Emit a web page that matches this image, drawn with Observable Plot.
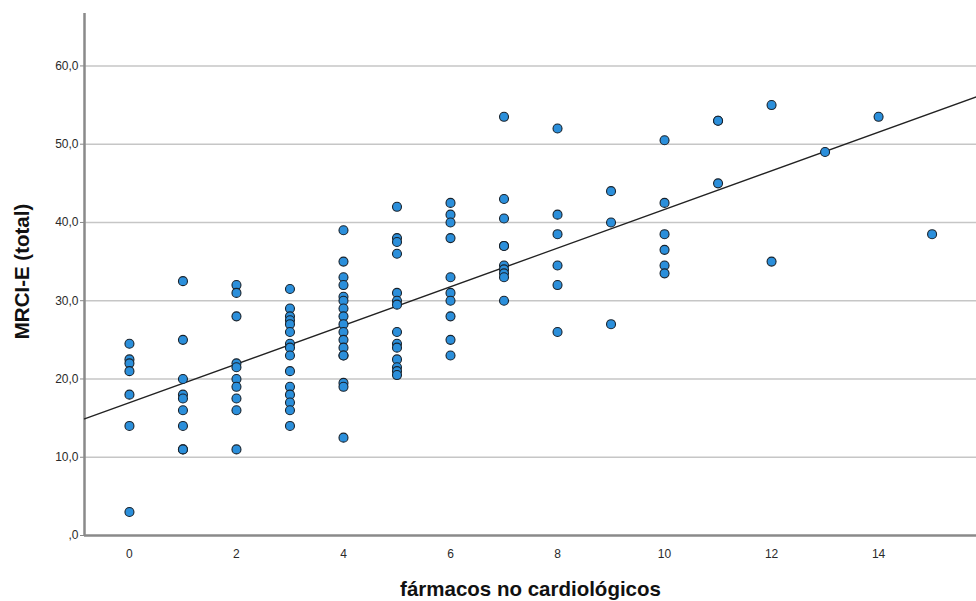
<!DOCTYPE html>
<html>
<head>
<meta charset="utf-8">
<script src="https://cdn.jsdelivr.net/npm/d3@7"></script>
<script src="https://cdn.jsdelivr.net/npm/@observablehq/plot@0.6"></script>
<style>
  html, body { margin: 0; padding: 0; background: #fff; }
  #chart svg { display: block; }
</style>
</head>
<body>
<div id="chart"></div>
<script>
// fármacos no cardiológicos (x) and MRCI-E (total) values observed at each x
const farmacos = [0, 1, 2, 3, 4, 5, 6, 7, 8, 9, 10, 11, 12, 13, 14, 15];
const mrciAt0 = [24.5, 22.5, 22, 21, 18, 14, 3];
const mrciAt1 = [32.5, 25, 20, 18, 17.5, 16, 14, 11, 11];
const mrciAt2 = [32, 31, 28, 22, 21.5, 20, 19, 17.5, 16, 11];
const mrciAt3 = [31.5, 29, 28, 27.5, 27, 26, 24.5, 24, 23, 21, 19, 18, 17, 16, 14];
const mrciAt4 = [39, 35, 33, 32, 30.5, 30, 29, 28, 27, 26, 25, 24, 23, 23, 19.5, 19, 12.5];
const mrciAt5 = [42, 38, 37.5, 36, 31, 30, 29.5, 26, 24.5, 24, 22.5, 21.5, 21, 20.5];
const mrciAt6 = [42.5, 41, 40, 38, 33, 31, 30, 28, 25, 23];
const mrciAt7 = [53.5, 43, 40.5, 37, 37, 34.5, 34, 33.5, 33, 30];
const mrciAt8 = [52, 41, 38.5, 34.5, 32, 26];
const mrciAt9 = [44, 40, 27];
const mrciAt10 = [50.5, 42.5, 38.5, 36.5, 34.5, 33.5];
const mrciAt11 = [53, 53, 45];
const mrciAt12 = [55, 35];
const mrciAt13 = [49];
const mrciAt14 = [53.5];
const mrciAt15 = [38.5];
const mrciGroups = [mrciAt0, mrciAt1, mrciAt2, mrciAt3, mrciAt4, mrciAt5, mrciAt6, mrciAt7,
                    mrciAt8, mrciAt9, mrciAt10, mrciAt11, mrciAt12, mrciAt13, mrciAt14, mrciAt15];

const xTicks = [0, 2, 4, 6, 8, 10, 12, 14];
const yTicks = [0, 10, 20, 30, 40, 50, 60];
const xDomain = [-0.84, 15.83];
const yDomain = [0, 66.7];
const xTitle = "fármacos no cardiológicos";
const yTitle = "MRCI-E (total)";

// table of points
const points = farmacos.flatMap((x, i) => mrciGroups[i].map(y => ({x, y})));

// least-squares fit line across the whole x axis (as SPSS draws it)
const mx = d3.mean(points, d => d.x), my = d3.mean(points, d => d.y);
const slope = d3.sum(points, d => (d.x - mx) * (d.y - my)) / d3.sum(points, d => (d.x - mx) ** 2);
const intercept = my - slope * mx;
const fitLine = xDomain.map(x => ({x, y: intercept + slope * x}));

const fmtY = d => d === 0 ? ",0" : d.toFixed(1).replace(".", ",");

const chart = Plot.plot({
  width: 976,
  height: 601,
  marginLeft: 84,
  marginRight: 0,
  marginTop: 13,
  marginBottom: 66,
  x: {domain: xDomain},
  y: {domain: yDomain},
  style: {fontFamily: "'Liberation Sans', Arial, sans-serif", fontSize: "12px", color: "#333", background: "#fff"},
  marks: [
    Plot.gridY(yTicks.filter(d => d > 0), {stroke: "#c6c6c6", strokeOpacity: 1, strokeWidth: 1.6}),
    Plot.axisY(yTicks, {tickFormat: fmtY, tickSize: 4, tickPadding: 2, stroke: "#888", label: null, fill: "#2a2a2a", fontSize: 12}),
    Plot.axisX(xTicks, {tickSize: 0, tickPadding: 14, label: null, fill: "#2a2a2a", fontSize: 12}),
    Plot.ruleX([xDomain[0]], {stroke: "#8a8a8a", strokeWidth: 2.5}),
    Plot.ruleY([0], {stroke: "#8a8a8a", strokeWidth: 2.5}),
    Plot.line(fitLine, {x: "x", y: "y", stroke: "#222", strokeWidth: 1.3}),
    Plot.dot(points, {x: "x", y: "y", r: 4.5, fill: "#2b8fdb", stroke: "#18222c", strokeWidth: 1.1}),
    Plot.text([yTitle], {frameAnchor: "left", textAnchor: "middle", lineAnchor: "middle", dx: -62, dy: -3, rotate: -90, fontSize: 20.5, fontWeight: "bold", fill: "#111"}),
    Plot.text([xTitle], {frameAnchor: "bottom", textAnchor: "middle", lineAnchor: "middle", dy: 54, fontSize: 20.5, fontWeight: "bold", fill: "#111"})
  ]
});
document.getElementById("chart").append(chart);
</script>
</body>
</html>
